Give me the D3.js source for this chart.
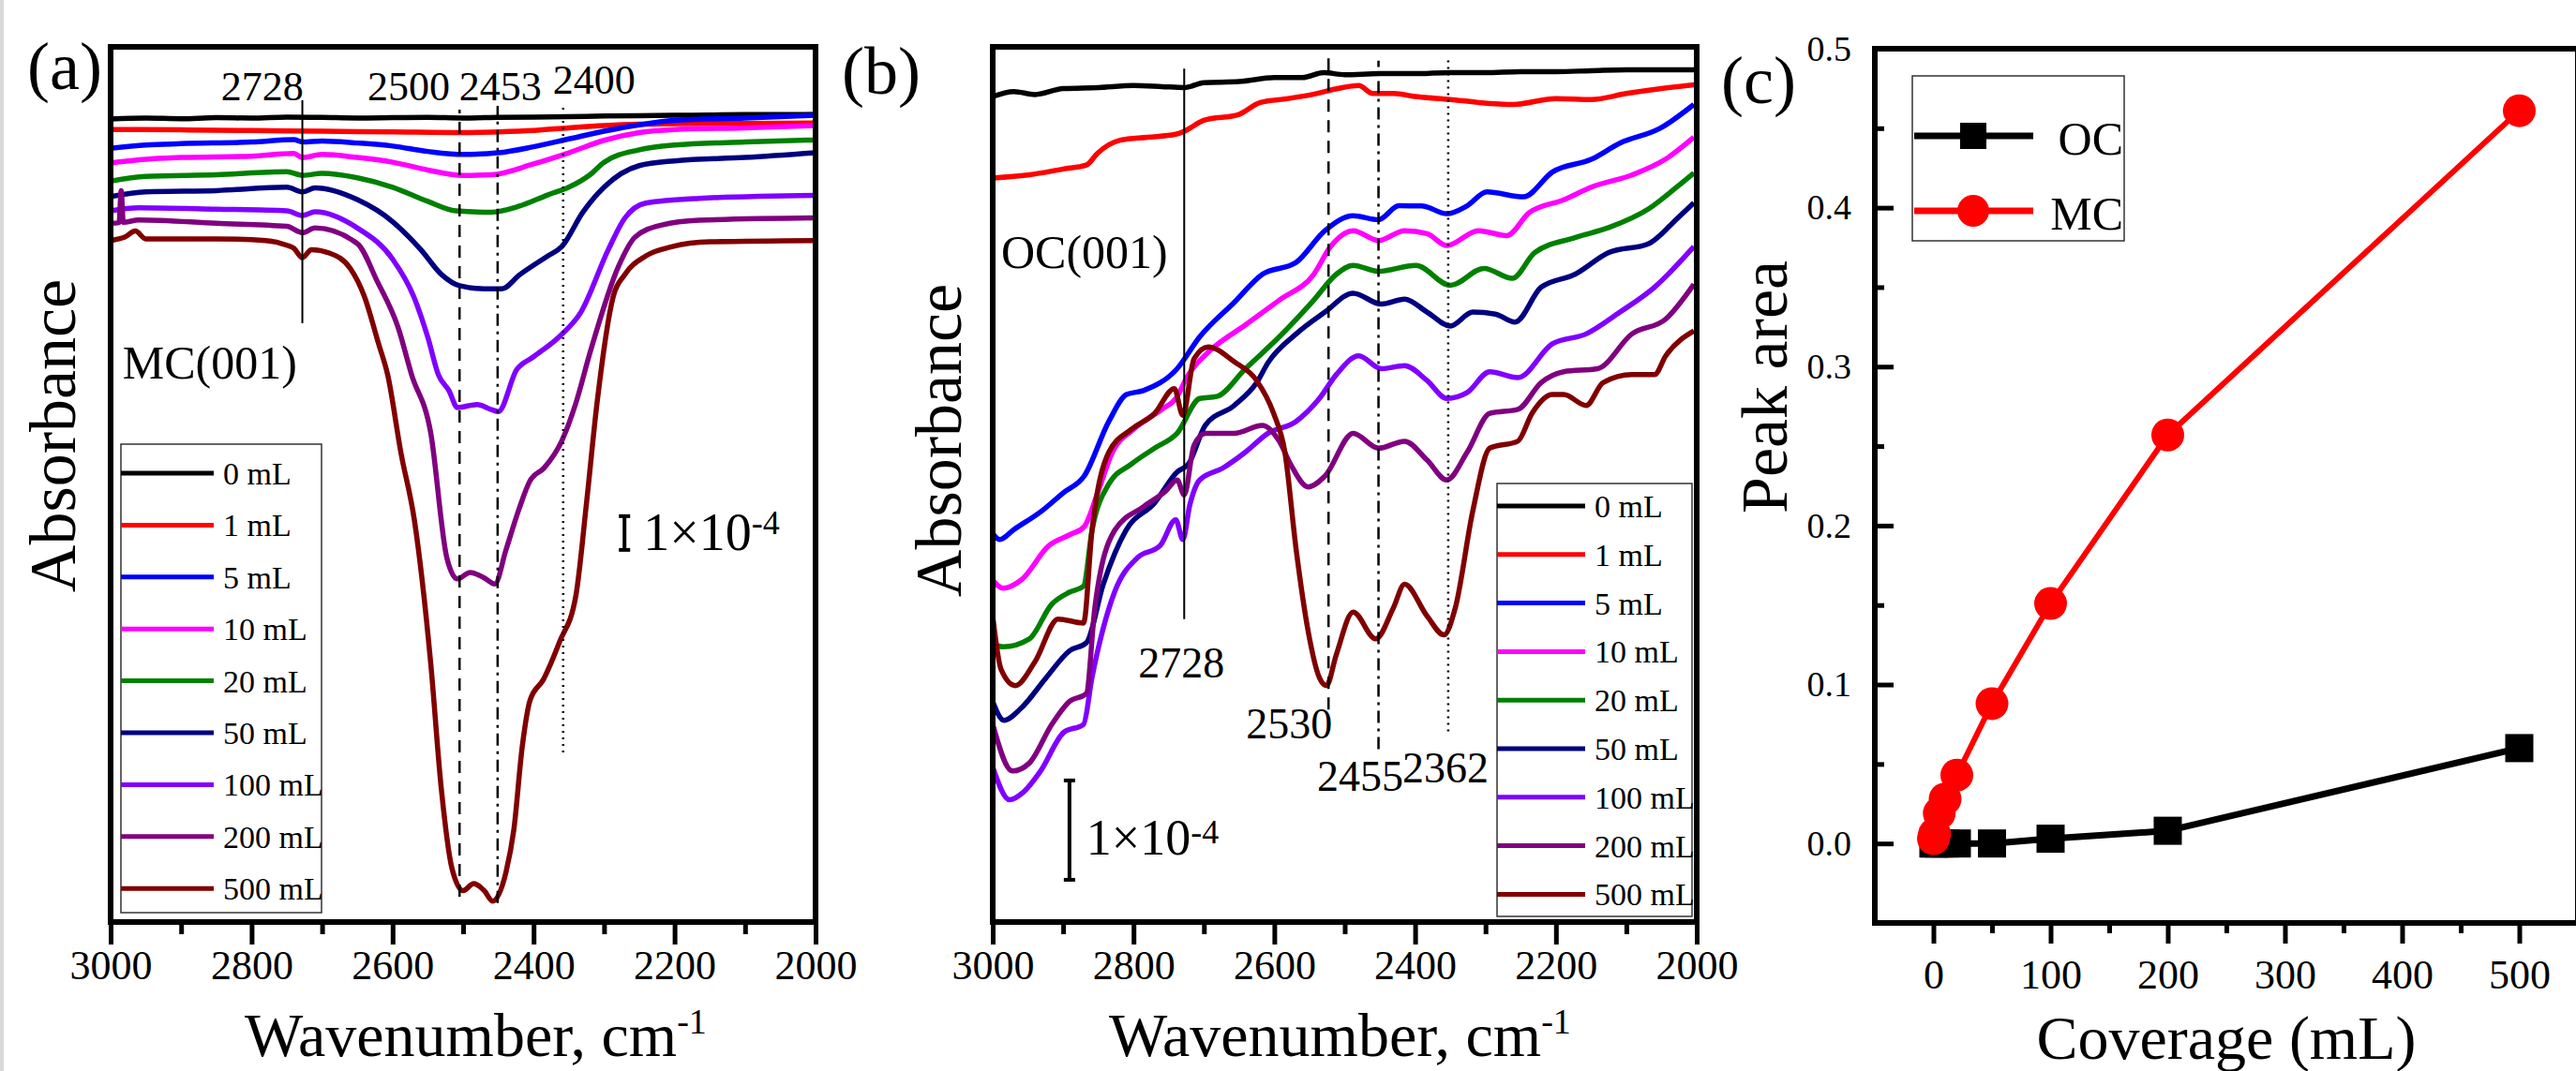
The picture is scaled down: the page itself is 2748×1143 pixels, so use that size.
<!DOCTYPE html>
<html>
<head>
<meta charset="utf-8">
<script src="https://cdn.jsdelivr.net/npm/d3@7"></script>
<style>
body { margin: 0; background: #fff; }
svg text { font-family: "Liberation Serif", "Times New Roman", serif; fill: #000; }
</style>
</head>
<body>
<svg width="2748" height="1143"></svg>
<script>
// ---- data ----
const doses = ["0 mL", "1 mL", "5 mL", "10 mL", "20 mL", "50 mL", "100 mL", "200 mL", "500 mL"];
const doseColors = ["#000000", "#ff0000", "#0000ff", "#ff00ff", "#008000", "#000080", "#8000ff", "#800080", "#800000"];
const waveTicks = [3000, 2800, 2600, 2400, 2200, 2000];
const waveMinor = [2900, 2700, 2500, 2300, 2100];

// panel (a) MC(001) spectra, [wavenumber, absorbance in 1e-4 with offset]
const mcSpectra = [
  [[3000,23.80],[2950,23.83],[2900,23.81],[2850,23.84],[2800,23.83],[2750,23.86],[2700,23.85],[2650,23.83],[2600,23.84],[2550,23.85],[2500,23.83],[2450,23.85],[2400,23.86],[2350,23.87],[2300,23.89],[2250,23.90],[2200,23.91],[2150,23.92],[2100,23.93],[2050,23.93],[2000,23.94]],
  [[3000,23.49],[2900,23.48],[2800,23.46],[2700,23.44],[2600,23.42],[2500,23.40],[2450,23.42],[2400,23.46],[2350,23.54],[2300,23.61],[2250,23.65],[2200,23.66],[2100,23.67],[2000,23.68]],
  [[3000,22.93],[2950,23.03],[2900,23.07],[2800,23.12],[2740,23.19],[2728,23.12],[2700,23.15],[2650,23.09],[2600,23.00],[2550,22.84],[2500,22.75],[2450,22.80],[2400,22.98],[2350,23.21],[2300,23.44],[2250,23.63],[2200,23.76],[2100,23.83],[2000,23.91]],
  [[3000,22.50],[2950,22.61],[2900,22.66],[2800,22.70],[2740,22.78],[2728,22.66],[2700,22.75],[2650,22.66],[2600,22.52],[2550,22.29],[2500,22.13],[2460,22.15],[2400,22.47],[2350,22.80],[2300,23.17],[2250,23.40],[2200,23.49],[2100,23.54],[2000,23.61]],
  [[3000,21.96],[2950,22.10],[2850,22.15],[2750,22.24],[2728,22.13],[2700,22.19],[2650,22.06],[2600,21.78],[2550,21.36],[2510,21.08],[2460,21.04],[2420,21.22],[2380,21.55],[2350,21.78],[2320,22.15],[2300,22.52],[2250,22.89],[2200,23.03],[2100,23.12],[2000,23.18]],
  [[3000,21.50],[2950,21.64],[2850,21.68],[2750,21.78],[2728,21.64],[2710,21.76],[2650,21.41],[2600,20.76],[2560,19.93],[2530,19.18],[2505,18.86],[2470,18.77],[2445,18.77],[2420,19.18],[2380,19.74],[2360,20.02],[2330,21.04],[2300,21.78],[2250,22.42],[2200,22.56],[2100,22.66],[2000,22.80]],
  [[3000,21.08],[2960,21.17],[2850,21.13],[2750,21.08],[2728,20.94],[2710,21.05],[2650,20.57],[2600,19.65],[2570,18.54],[2550,17.33],[2535,16.22],[2520,15.75],[2508,15.25],[2480,15.34],[2460,15.19],[2450,15.13],[2424,16.37],[2401,16.74],[2363,17.36],[2333,18.07],[2294,19.93],[2271,20.85],[2241,21.31],[2165,21.45],[2000,21.54]],
  [[3000,20.71],[2988,20.73],[2985,21.68],[2982,20.74],[2960,20.81],[2850,20.71],[2750,20.62],[2728,20.43],[2710,20.57],[2650,20.11],[2622,19.00],[2592,17.61],[2573,16.22],[2546,14.51],[2523,10.79],[2508,10.17],[2490,10.36],[2470,10.20],[2455,10.02],[2439,11.04],[2420,12.28],[2405,13.08],[2385,13.46],[2360,14.26],[2340,15.38],[2320,16.87],[2279,19.46],[2256,20.30],[2218,20.66],[2165,20.80],[2000,20.87]],
  [[3000,20.20],[2980,20.30],[2965,20.48],[2950,20.25],[2850,20.25],[2780,20.20],[2750,20.06],[2740,19.97],[2728,19.69],[2715,19.93],[2690,19.83],[2660,19.37],[2640,18.54],[2620,17.15],[2607,16.22],[2588,13.89],[2569,11.90],[2546,7.69],[2531,3.97],[2516,1.61],[2500,0.93],[2485,1.14],[2470,0.93],[2458,0.62],[2439,1.49],[2428,2.73],[2416,5.21],[2405,6.57],[2386,7.19],[2363,8.31],[2340,9.67],[2325,12.40],[2310,15.38],[2287,18.54],[2271,19.18],[2241,19.74],[2203,20.02],[2150,20.16],[2000,20.20]]
];

// panel (b) OC(001) spectra
const ocSpectra = [
  [[3000,8.31],[2970,8.36],[2940,8.33],[2900,8.39],[2850,8.40],[2800,8.42],[2760,8.41],[2728,8.40],[2700,8.45],[2650,8.46],[2600,8.50],[2560,8.50],[2530,8.55],[2500,8.53],[2450,8.54],[2400,8.54],[2350,8.55],[2300,8.55],[2250,8.56],[2200,8.56],[2150,8.57],[2100,8.58],[2050,8.58],[2000,8.58]],
  [[3000,7.49],[2950,7.52],[2900,7.58],[2867,7.62],[2851,7.74],[2819,7.87],[2780,7.90],[2740,7.93],[2728,7.96],[2700,8.07],[2650,8.13],[2620,8.25],[2580,8.29],[2540,8.34],[2510,8.39],[2480,8.42],[2460,8.34],[2430,8.34],[2400,8.31],[2350,8.28],[2310,8.25],[2260,8.23],[2200,8.29],[2150,8.28],[2100,8.34],[2050,8.39],[2000,8.43]],
  [[3000,3.91],[2990,3.85],[2970,3.95],[2930,4.14],[2900,4.32],[2870,4.49],[2835,5.04],[2810,5.31],[2786,5.35],[2738,5.57],[2706,5.89],[2658,6.23],[2617,6.52],[2569,6.64],[2528,6.96],[2488,7.11],[2452,7.07],[2423,7.21],[2391,7.21],[2355,7.13],[2326,7.21],[2298,7.35],[2246,7.30],[2205,7.55],[2149,7.68],[2109,7.84],[2052,7.99],[2004,8.23]],
  [[3000,3.44],[2985,3.36],[2960,3.44],[2920,3.79],[2890,3.90],[2870,3.98],[2850,4.34],[2830,4.73],[2800,4.96],[2760,5.16],[2740,5.27],[2722,5.51],[2690,5.76],[2641,6.01],[2593,6.26],[2544,6.52],[2520,6.80],[2488,6.96],[2452,6.86],[2415,6.96],[2383,6.93],[2355,6.81],[2310,6.96],[2270,6.91],[2238,7.14],[2189,7.27],[2149,7.40],[2092,7.52],[2044,7.68],[2004,7.90]],
  [[3000,2.80],[2985,2.77],[2948,2.85],[2916,3.20],[2891,3.32],[2871,3.38],[2859,3.94],[2835,4.41],[2803,4.61],[2770,4.77],[2738,4.92],[2706,5.27],[2682,5.29],[2641,5.57],[2593,5.89],[2544,6.26],[2512,6.52],[2488,6.61],[2452,6.55],[2399,6.61],[2350,6.41],[2302,6.58],[2262,6.48],[2230,6.74],[2173,6.89],[2125,6.99],[2068,7.18],[2028,7.40],[2004,7.54]],
  [[3000,2.22],[2984,2.03],[2960,2.15],[2924,2.46],[2891,2.73],[2867,2.81],[2843,3.40],[2811,3.94],[2770,4.22],[2738,4.53],[2722,4.61],[2698,5.00],[2657,5.20],[2625,5.43],[2609,5.63],[2569,5.92],[2528,6.14],[2488,6.33],[2448,6.22],[2415,6.27],[2383,6.14],[2350,6.00],[2318,6.14],[2286,6.12],[2258,6.04],[2221,6.39],[2173,6.52],[2125,6.74],[2068,6.83],[2028,7.08],[2004,7.24]],
  [[3000,1.56],[2976,1.23],[2956,1.31],[2932,1.52],[2899,1.91],[2871,1.99],[2859,2.46],[2827,3.32],[2794,3.67],[2762,3.79],[2740,4.05],[2730,3.85],[2720,4.20],[2706,4.45],[2673,4.57],[2641,4.73],[2609,4.92],[2569,5.04],[2536,5.27],[2512,5.51],[2480,5.70],[2448,5.57],[2415,5.60],[2383,5.45],[2355,5.27],[2326,5.33],[2294,5.54],[2254,5.48],[2205,5.82],[2157,5.92],[2109,6.14],[2060,6.39],[2004,6.80]],
  [[3000,1.99],[2972,1.52],[2948,1.60],[2916,1.99],[2891,2.22],[2867,2.30],[2855,3.16],[2827,3.94],[2786,4.18],[2754,4.34],[2738,4.45],[2728,4.30],[2714,4.80],[2698,4.92],[2657,4.92],[2617,5.00],[2593,4.84],[2577,4.61],[2552,4.38],[2528,4.49],[2488,4.92],[2452,4.77],[2415,4.84],[2383,4.65],[2355,4.45],[2326,4.73],[2294,5.12],[2254,5.16],[2221,5.43],[2189,5.54],[2141,5.57],[2092,5.92],[2044,6.07],[2004,6.42]],
  [[3000,3.08],[2988,2.54],[2968,2.38],[2940,2.62],[2907,3.05],[2871,3.01],[2859,3.94],[2835,4.73],[2803,4.96],[2770,5.12],[2742,5.37],[2730,5.10],[2714,5.67],[2694,5.79],[2657,5.64],[2625,5.45],[2601,5.12],[2585,4.73],[2569,3.75],[2552,2.93],[2536,2.46],[2526,2.38],[2512,2.69],[2488,3.12],[2456,2.85],[2431,3.16],[2415,3.40],[2383,3.08],[2359,2.89],[2343,3.16],[2318,4.14],[2294,4.77],[2254,4.84],[2234,5.12],[2205,5.31],[2189,5.31],[2157,5.20],[2133,5.43],[2092,5.51],[2060,5.51],[2044,5.70],[2004,5.95]]
];

// band markers: position, label
const mcBands = [2728, 2505, 2451, 2358];
const mcBandText = ["2728", "2500", "2453", "2400"];
const ocBands = [2728, 2523, 2452, 2353];
const ocBandText = ["2728", "2530", "2455", "2362"];

// panel (c)
const coverage = [0, 1, 5, 10, 20, 50, 100, 200, 500];
const ocArea = [0.000, 0.000, 0.000, 0.000, 0.000, 0.000, 0.003, 0.008, 0.060];
const mcArea = [0.003, 0.006, 0.019, 0.028, 0.043, 0.088, 0.151, 0.257, 0.461];
const covTicks = [0, 100, 200, 300, 400, 500];
const covMinor = [50, 150, 250, 350, 450];
const areaTicks = [0, 0.1, 0.2, 0.3, 0.4, 0.5];
const areaMinor = [0.05, 0.15, 0.25, 0.35, 0.45];

// ---- drawing ----
const serif = '"Liberation Serif", "Times New Roman", serif';
const svg = d3.select("svg");
svg.append("rect").attr("width", 2748).attr("height", 1143).attr("fill", "#fff");
svg.append("rect").attr("width", 4).attr("height", 1143).attr("fill", "#d9d9d9");

function styleAxis(ax, size) {
  ax.attr("font-family", serif).attr("font-size", size);
  ax.select(".domain").remove();
  ax.selectAll(".tick line").attr("stroke", "#000").attr("stroke-width", 5);
  ax.selectAll(".tick text").attr("fill", "#000");
}

function superText(g, x, y, size, main, sup, supSize, dy, anchor) {
  const t = g.append("text").attr("x", x).attr("y", y)
    .attr("font-size", size).attr("text-anchor", anchor || "start");
  t.append("tspan").text(main);
  t.append("tspan").attr("font-size", supSize).attr("dy", dy).text(sup);
  return t;
}

function spectraPanel(c) {
  const g = svg.append("g");
  const x = d3.scaleLinear().domain([3000, 2000]).range([c.left, c.right]);
  const y = d3.scaleLinear().domain([0, c.yMax]).range([c.bottom, c.top]);

  g.append("clipPath").attr("id", "clip" + c.id).append("rect")
    .attr("x", c.left).attr("y", c.top)
    .attr("width", c.right - c.left).attr("height", c.bottom - c.top);

  const line = d3.line().x(d => x(d[0])).y(d => y(d[1])).curve(d3.curveMonotoneX);
  g.append("g").attr("clip-path", `url(#clip${c.id})`)
    .selectAll("path").data(c.spectra).join("path")
    .attr("d", line).attr("fill", "none")
    .attr("stroke", (d, i) => doseColors[i])
    .attr("stroke-width", 5.5).attr("stroke-linejoin", "round");

  // band marker lines
  const dashes = [null, "13,9", "13,6,3,6", "2,5"];
  c.bands.forEach((w, i) => {
    g.append("line").attr("x1", x(w)).attr("x2", x(w))
      .attr("y1", y(c.bandSpan[i][0])).attr("y2", y(c.bandSpan[i][1]))
      .attr("stroke", "#000").attr("stroke-width", i === 0 ? 2 : 2.5)
      .attr("stroke-dasharray", dashes[i]);
    g.append("text").attr("x", x(c.bandLabelAt[i][0])).attr("y", y(c.bandLabelAt[i][1]))
      .attr("text-anchor", "middle").attr("font-size", c.bandFont).text(c.bandText[i]);
  });

  // axes
  const ax = g.append("g").attr("transform", `translate(0,${c.bottom})`)
    .call(d3.axisBottom(x).tickValues(waveTicks).tickSize(24).tickPadding(6).tickFormat(d3.format("d")));
  styleAxis(ax, 44);
  const axm = g.append("g").attr("transform", `translate(0,${c.bottom})`)
    .call(d3.axisBottom(x).tickValues(waveMinor).tickSize(13).tickFormat(""));
  styleAxis(axm, 10);

  g.append("rect").attr("x", c.left).attr("y", c.top)
    .attr("width", c.right - c.left).attr("height", c.bottom - c.top)
    .attr("fill", "none").attr("stroke", "#000").attr("stroke-width", 6);

  // scale bar 1e-4
  const bx = x(c.bar[0]), b0 = y(c.bar[1]), b1 = y(c.bar[1] + 1);
  g.append("line").attr("x1", bx).attr("x2", bx).attr("y1", b0).attr("y2", b1)
    .attr("stroke", "#000").attr("stroke-width", 4);
  [b0, b1].forEach(v => g.append("line").attr("x1", bx - 6).attr("x2", bx + 6)
    .attr("y1", v).attr("y2", v).attr("stroke", "#000").attr("stroke-width", 4));
  superText(g, bx + c.barGap, c.barBase, c.barFont, "1×10", "-4", 36, c.barSupDy);

  // legend
  const lg = g.append("g");
  lg.append("rect").attr("x", c.legend.x).attr("y", c.legend.y)
    .attr("width", c.legend.w).attr("height", c.legend.h)
    .attr("fill", "#fff").attr("stroke", "#333").attr("stroke-width", 1.5);
  doses.forEach((d, i) => {
    const ry = c.legend.row0 + i * c.legend.step;
    lg.append("line").attr("x1", c.legend.x).attr("x2", c.legend.x + c.legend.lineLen)
      .attr("y1", ry).attr("y2", ry).attr("stroke", doseColors[i]).attr("stroke-width", 5);
    lg.append("text").attr("x", c.legend.x + c.legend.lineLen + 10).attr("y", ry)
      .attr("dy", "0.35em").attr("font-size", 34).text(d);
  });

  // texts
  g.append("text").attr("x", x(c.sample[0])).attr("y", y(c.sample[1]))
    .attr("font-size", 50).text(c.sampleName);
  g.append("text").attr("transform", `translate(${c.yLabel[0]},${c.yLabel[1]}) rotate(-90)`)
    .attr("text-anchor", "middle").attr("font-size", 70).text("Absorbance");
  superText(g, c.xLabelX, 1127, 66, "Wavenumber, cm", "-1", 38, -24);
  g.append("text").attr("x", c.tag[0]).attr("y", c.tag[1]).attr("font-size", 72).text(c.tagText);
}

spectraPanel({
  id: "a", left: 118, right: 870, top: 50, bottom: 984, yMax: 25.94,
  spectra: mcSpectra, bands: mcBands, bandText: mcBandText, bandFont: 44,
  bandSpan: [[17.75, 24.36], [0.75, 24.08], [0.56, 24.19], [5.03, 24.19]],
  bandLabelAt: [[2785, 24.36], [2577, 24.36], [2447, 24.36], [2314, 24.55]],
  bar: [2271, 11.03], barGap: 20, barBase: 587, barFont: 56, barSupDy: -17,
  legend: { x: 129, y: 474, w: 214, h: 500, row0: 505, step: 55.4, lineLen: 99 },
  sample: [2983, 16.11], sampleName: "MC(001)",
  yLabel: [80, 465], xLabelX: 261, tag: [29, 95], tagText: "(a)"
});

spectraPanel({
  id: "b", left: 1059, right: 1810, top: 50, bottom: 984, yMax: 8.81,
  spectra: ocSpectra, bands: ocBands, bandText: ocBandText, bandFont: 46,
  bandSpan: [[3.05, 8.59], [2.14, 8.73], [1.74, 8.67], [1.92, 8.69]],
  bandLabelAt: [[2732, 2.46], [2579, 1.85], [2478, 1.32], [2357, 1.41]],
  bar: [2891, 0.425], barGap: 18, barBase: 912, barFont: 54, barSupDy: -12,
  legend: { x: 1597, y: 516, w: 208, h: 462, row0: 540, step: 51.8, lineLen: 94 },
  sample: [2988, 6.58], sampleName: "OC(001)",
  yLabel: [1025, 470], xLabelX: 1183, tag: [898, 100], tagText: "(b)"
});

// panel (c)
(function () {
  const left = 2000, right = 2750, top = 52, bottom = 985;
  const g = svg.append("g");
  const x = d3.scaleLinear().domain([-50, 550]).range([left, right]);
  const y = d3.scaleLinear().domain([-0.05, 0.5]).range([bottom, top]);

  const ax = g.append("g").attr("transform", `translate(0,${bottom})`)
    .call(d3.axisBottom(x).tickValues(covTicks).tickSize(22).tickPadding(17).tickFormat(d3.format("d")));
  styleAxis(ax, 44);
  const axm = g.append("g").attr("transform", `translate(0,${bottom})`)
    .call(d3.axisBottom(x).tickValues(covMinor).tickSize(11).tickFormat(""));
  styleAxis(axm, 10);
  const ay = g.append("g").attr("transform", `translate(${left},0)`)
    .call(d3.axisLeft(y).tickValues(areaTicks).tickSize(-20).tickPadding(25).tickFormat(d3.format(".1f")));
  styleAxis(ay, 38);
  const aym = g.append("g").attr("transform", `translate(${left},0)`)
    .call(d3.axisLeft(y).tickValues(areaMinor).tickSize(-10).tickFormat(""));
  styleAxis(aym, 10);

  g.append("rect").attr("x", left).attr("y", top)
    .attr("width", right - left).attr("height", bottom - top)
    .attr("fill", "none").attr("stroke", "#000").attr("stroke-width", 6);

  const oc = coverage.map((c, i) => [c, ocArea[i]]);
  const mc = coverage.map((c, i) => [c, mcArea[i]]);
  const line = d3.line().x(d => x(d[0])).y(d => y(d[1]));

  g.append("path").attr("d", line(oc)).attr("fill", "none")
    .attr("stroke", "#000").attr("stroke-width", 7);
  g.selectAll(".sq").data(oc).join("rect").attr("class", "sq")
    .attr("x", d => x(d[0]) - 15).attr("y", d => y(d[1]) - 15)
    .attr("width", 30).attr("height", 30).attr("fill", "#000");

  g.append("path").attr("d", line(mc)).attr("fill", "none")
    .attr("stroke", "#ff0000").attr("stroke-width", 6);
  g.selectAll(".ci").data(mc).join("circle").attr("class", "ci")
    .attr("cx", d => x(d[0])).attr("cy", d => y(d[1])).attr("r", 17.5).attr("fill", "#ff0000");

  // legend
  g.append("rect").attr("x", 2040).attr("y", 81).attr("width", 226).attr("height", 176)
    .attr("fill", "#fff").attr("stroke", "#333").attr("stroke-width", 1.5);
  [["OC", "#000", 145], ["MC", "#ff0000", 225]].forEach(([name, col, ry], i) => {
    g.append("line").attr("x1", 2042).attr("x2", 2169).attr("y1", ry).attr("y2", ry)
      .attr("stroke", col).attr("stroke-width", 7);
    if (i === 0) g.append("rect").attr("x", 2091).attr("y", ry - 14).attr("width", 28).attr("height", 28).attr("fill", col);
    else g.append("circle").attr("cx", 2105).attr("cy", ry).attr("r", 17).attr("fill", col);
    g.append("text").attr("x", 2265).attr("y", ry + 20).attr("text-anchor", "end")
      .attr("font-size", 50).text(name);
  });

  g.append("text").attr("transform", "translate(1906,413) rotate(-90)")
    .attr("text-anchor", "middle").attr("font-size", 70).text("Peak area");
  g.append("text").attr("x", (left + right) / 2).attr("y", 1130)
    .attr("text-anchor", "middle").attr("font-size", 66).text("Coverage (mL)");
  g.append("text").attr("x", 1836).attr("y", 110).attr("font-size", 72).text("(c)");
})();
</script>
</body>
</html>
